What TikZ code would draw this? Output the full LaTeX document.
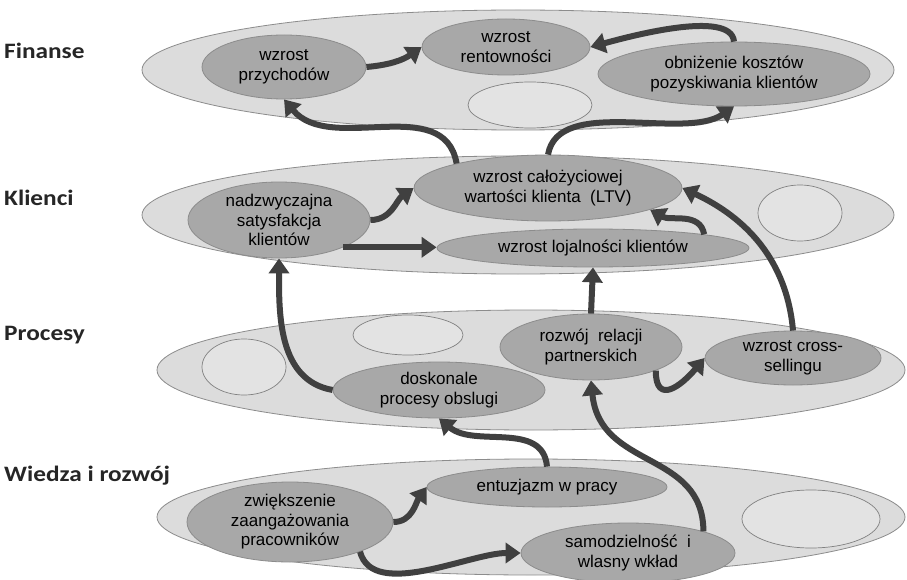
\documentclass[tikz,border=0pt]{standalone}
\usepackage{fontspec}
\setmainfont{Liberation Sans}
\newfontfamily\layerfont{Carlito}[FakeStretch=1.15]
\usetikzlibrary{shapes.geometric,arrows.meta}
\definecolor{layerfill}{HTML}{DCDCDC}
\definecolor{layerline}{HTML}{8C8C8C}
\definecolor{goalfill}{HTML}{A8A8A8}
\definecolor{arrowgray}{HTML}{404040}

\begin{document}
\begin{tikzpicture}[x=1pt,y=1pt,
  layer/.style={ellipse, draw=layerline, fill=layerfill, line width=0.8pt, inner sep=0pt},
  goal/.style={ellipse, draw=layerline, fill=goalfill, line width=0.8pt, inner sep=-2pt, align=center, font=\fontsize{17}{19.5}\selectfont},
  blank/.style={ellipse, draw=gray, fill=layerfill!80!white, line width=0.7pt, inner sep=0pt},
  link/.style={line width=6pt, draw=arrowgray, -{Triangle[width=20pt,length=15pt]}},
  title/.style={anchor=west, inner sep=0pt, text=black!85, font=\layerfont\bfseries\fontsize{22}{26}\selectfont}]
\path[use as bounding box, fill=white] (0,0) rectangle (907,-580);

\node[title] (finL) at (4,-51) {Finanse};
\node[title] (kliL) at (4,-198) {Klienci};
\node[title] (proL) at (4,-335) {Procesy};
\node[title] (wieL) at (4,-476) {Wiedza i rozwój};

\node[layer, minimum width=752pt, minimum height=120pt] (fin) at (518,-70) {};
\node[layer, minimum width=752pt, minimum height=118pt] (kli) at (518,-215) {};
\node[layer, minimum width=748pt, minimum height=120pt] (pro) at (531,-370) {};
\node[layer, minimum width=748pt, minimum height=116pt] (wie) at (531,-517) {};

\node[goal, minimum width=164pt, minimum height=64pt] (przych) at (284,-67) {wzrost\\przychodów};
\node[goal, minimum width=168pt, minimum height=56pt] (rentow) at (506,-47) {wzrost\\rentowności};
\node[goal, minimum width=272pt, minimum height=64pt] (koszt) at (734,-74) {obniżenie kosztów\\pozyskiwania klientów};
\node[blank, minimum width=124pt, minimum height=46pt] (finE) at (530,-105) {};

\node[goal, minimum width=182pt, minimum height=76pt] (satysf) at (279,-220) {nadzwyczajna\\satysfakcja\\klientów};
\node[goal, minimum width=268pt, minimum height=66pt] (ltv) at (548,-188) {wzrost całożyciowej\\wartości klienta\ \ (LTV)};
\node[goal, minimum width=312pt, minimum height=38pt] (lojal) at (593,-248) {wzrost lojalności klientów};
\node[blank, minimum width=84pt, minimum height=56pt] (kliE) at (800,-213) {};

\node[blank, minimum width=84pt, minimum height=56pt] (proE1) at (244,-367) {};
\node[blank, minimum width=110pt, minimum height=40pt] (proE2) at (408,-335) {};
\node[goal, minimum width=182pt, minimum height=66pt] (rozwoj) at (591,-347) {rozwój\ \ relacji\\partnerskich};
\node[goal, minimum width=176pt, minimum height=54pt] (cross) at (793,-358) {wzrost cross-\\sellingu};
\node[goal, minimum width=212pt, minimum height=56pt] (doskon) at (439,-390) {doskonale\\procesy obslugi};

\node[goal, minimum width=206pt, minimum height=80pt] (zwieksz) at (290,-522) {zwiększenie\\zaangażowania\\pracowników};
\node[goal, minimum width=240pt, minimum height=40pt] (entuz) at (547,-487) {entuzjazm w pracy};
\node[goal, minimum width=214pt, minimum height=60pt] (samodz) at (628,-553) {samodzielność\ \ i\\wlasny wkład};
\node[blank, minimum width=138pt, minimum height=58pt] (wieE) at (811,-519) {};

\draw[link] (przych.east) to[out=5,in=215] (rentow.west);
\draw[link] (koszt.north) to[out=95,in=15,looseness=0.6] (rentow.east);
\draw[link] (ltv.165) to[out=100,in=-50] (przych.south);
\draw[link] (ltv.north) to[out=80,in=215,looseness=0.8] (koszt.south);
\draw[link] (satysf.east) to[out=0,in=215] (ltv.west);
\draw[link] (satysf.-23) -- (satysf.-23 -| lojal.west);
\draw[link] (lojal.7) to[out=100,in=-30] (ltv.-12);
\draw[link] (cross.north) to[out=95,in=-25] (ltv.east);
\draw[link] (rozwoj.north) -- (lojal.south);
\draw[link] (doskon.west) to[out=170,in=-90] (satysf.south);
\draw[link] (rozwoj.-20) to[out=-90,in=230,looseness=1.8] (cross.west);
\draw[link] (entuz.north) to[out=95,in=-40] (doskon.south);
\draw[link] (samodz.16) .. controls (703,-450) and (600,-470) .. (rozwoj.south);
\draw[link] (zwieksz.east) to[out=0,in=235] (entuz.west);
\draw[link] (zwieksz.-23) to[out=-75,in=180,looseness=0.8] (samodz.west);
\end{tikzpicture}
\end{document}
